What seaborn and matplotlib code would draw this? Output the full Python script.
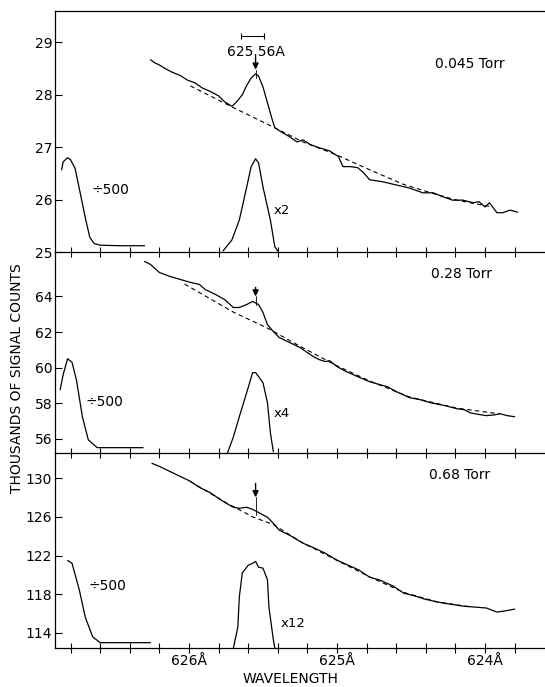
import matplotlib
matplotlib.use('Agg')
from matplotlib import pyplot as plt
import pandas as pd
import seaborn as sns

# wavelength (A) / thousands of counts
top_wl = [626.26, 626.23, 626.20, 626.16, 626.12, 626.06, 626.01, 625.96, 625.91, 625.86,
          625.80, 625.76, 625.71, 625.68, 625.64, 625.61, 625.58, 625.55, 625.53, 625.50,
          625.47, 625.44, 625.42, 625.37, 625.32, 625.27, 625.23, 625.18, 625.12, 625.05,
          624.99, 624.96, 624.91, 624.86, 624.82, 624.78, 624.69, 624.60, 624.51, 624.42,
          624.35, 624.28, 624.22, 624.15, 624.08, 624.04, 624.00, 623.97, 623.92, 623.88,
          623.83, 623.78]
top_val = [28.67, 28.61, 28.57, 28.50, 28.44, 28.37, 28.28, 28.23, 28.13, 28.07,
           27.98, 27.87, 27.78, 27.86, 28.00, 28.18, 28.32, 28.40, 28.36, 28.15,
           27.85, 27.55, 27.37, 27.28, 27.20, 27.10, 27.14, 27.05, 26.99, 26.93,
           26.82, 26.63, 26.63, 26.61, 26.51, 26.38, 26.34, 26.28, 26.22, 26.13,
           26.13, 26.05, 25.99, 25.99, 25.94, 25.96, 25.86, 25.94, 25.75, 25.75,
           25.80, 25.76]
top_base_wl = [625.99, 625.71, 625.42, 625.23, 625.00, 624.78, 624.55, 624.32, 624.19, 623.97]
top_base_val = [28.17, 27.77, 27.37, 27.10, 26.85, 26.57, 26.29, 26.09, 25.99, 25.87]
top_div_wl = [626.86, 626.85, 626.82, 626.80, 626.77, 626.74, 626.70, 626.67, 626.64, 626.60, 626.47, 626.30]
top_div_val = [26.57, 26.72, 26.80, 26.76, 26.60, 26.20, 25.65, 25.28, 25.16, 25.13, 25.12, 25.12]
top_mul_wl = [625.77, 625.71, 625.66, 625.61, 625.58, 625.55, 625.53, 625.50, 625.45, 625.42, 625.40]
top_mul_val = [25.02, 25.23, 25.61, 26.24, 26.63, 26.78, 26.70, 26.24, 25.61, 25.10, 25.02]

mid_wl = [626.30, 626.26, 626.20, 626.13, 626.06, 625.99, 625.93, 625.89, 625.82, 625.76,
          625.70, 625.66, 625.61, 625.57, 625.53, 625.50, 625.47, 625.43, 625.39, 625.32,
          625.25, 625.16, 625.12, 625.08, 625.05, 625.00, 624.95, 624.86, 624.78, 624.71,
          624.66, 624.60, 624.51, 624.44, 624.37, 624.27, 624.19, 624.14, 624.10, 624.03,
          623.99, 623.93, 623.90, 623.85, 623.80]
mid_val = [65.97, 65.80, 65.35, 65.13, 64.96, 64.79, 64.68, 64.39, 64.11, 63.83,
           63.38, 63.38, 63.55, 63.72, 63.55, 63.10, 62.42, 62.03, 61.69, 61.41,
           61.13, 60.62, 60.45, 60.34, 60.39, 60.06, 59.83, 59.49, 59.21, 59.04,
           58.93, 58.65, 58.31, 58.20, 58.03, 57.86, 57.69, 57.63, 57.46, 57.35,
           57.30, 57.35, 57.41, 57.30, 57.24]
mid_base_wl = [626.03, 625.70, 625.47, 625.25, 625.00, 624.78, 624.51, 624.19, 623.90]
mid_base_val = [64.70, 63.12, 62.22, 61.20, 60.10, 59.25, 58.35, 57.72, 57.40]
mid_div_wl = [626.87, 626.85, 626.82, 626.79, 626.76, 626.72, 626.68, 626.62, 626.31]
mid_div_val = [58.76, 59.60, 60.50, 60.30, 59.30, 57.24, 55.94, 55.50, 55.50]
mid_mul_wl = [625.74, 625.70, 625.66, 625.61, 625.57, 625.55, 625.53, 625.50, 625.47, 625.45, 625.43]
mid_mul_val = [55.20, 56.10, 57.24, 58.60, 59.72, 59.72, 59.50, 59.15, 58.03, 56.34, 55.27]

bot_wl = [626.25, 626.20, 626.13, 626.06, 625.99, 625.93, 625.86, 625.81, 625.76, 625.70,
          625.66, 625.61, 625.57, 625.52, 625.47, 625.43, 625.39, 625.32, 625.23, 625.15,
          625.08, 625.00, 624.91, 624.85, 624.78, 624.71, 624.62, 624.55, 624.47, 624.41,
          624.32, 624.24, 624.15, 624.07, 623.99, 623.92, 623.87, 623.80]
bot_val = [131.53, 131.22, 130.70, 130.19, 129.67, 129.05, 128.54, 128.02, 127.51, 126.99,
           126.89, 126.99, 126.78, 126.37, 125.96, 125.34, 124.62, 124.10, 123.28, 122.76,
           122.25, 121.53, 120.91, 120.49, 119.77, 119.46, 118.85, 118.12, 117.81, 117.51,
           117.20, 116.99, 116.78, 116.68, 116.58, 116.16, 116.27, 116.47]
bot_base_wl = [625.99, 625.76, 625.57, 625.43, 625.23, 625.00, 624.78, 624.55, 624.32, 624.10]
bot_base_val = [129.65, 127.55, 126.00, 125.20, 123.30, 121.50, 119.80, 118.20, 117.20, 116.70]
bot_div_wl = [626.82, 626.79, 626.74, 626.70, 626.65, 626.60, 626.26]
bot_div_val = [121.50, 121.20, 118.40, 115.60, 113.60, 113.00, 113.00]
bot_mul_wl = [625.70, 625.67, 625.66, 625.64, 625.60, 625.57, 625.55, 625.53, 625.50, 625.47, 625.46, 625.43, 625.42]
bot_mul_val = [112.45, 114.60, 117.70, 120.20, 121.00, 121.20, 121.40, 120.80, 120.70, 119.50, 116.70, 113.30, 112.45]

pressures = ['0.045 Torr', '0.28 Torr', '0.68 Torr']
factors = ['x2', 'x4', 'x12']
ylims = [(25, 29.6), (55.2, 66.5), (112.45, 132.6)]
yticks = [[25, 26, 27, 28, 29], [56, 58, 60, 62, 64], [114, 118, 122, 126, 130]]
line_x = 625.55

sns.set_style('ticks')
plt.rcParams['font.family'] = ['DejaVu Sans']
for k in ['text.color', 'axes.labelcolor', 'xtick.color', 'ytick.color', 'axes.edgecolor']:
    plt.rcParams[k] = 'black'

fig = plt.figure(figsize=(5.45, 6.87), dpi=100)
W, H = 545, 687
rects = [(11, 252), (252, 453), (453, 648)]
axes = []
for top, bottom in rects:
    ax = fig.add_axes([55 / W, 1 - bottom / H, 490 / W, (bottom - top) / H])
    axes.append(ax)

panels = [
    (top_wl, top_val, top_base_wl, top_base_val, top_div_wl, top_div_val, top_mul_wl, top_mul_val),
    (mid_wl, mid_val, mid_base_wl, mid_base_val, mid_div_wl, mid_div_val, mid_mul_wl, mid_mul_val),
    (bot_wl, bot_val, bot_base_wl, bot_base_val, bot_div_wl, bot_div_val, bot_mul_wl, bot_mul_val),
]

for i, (ax, p) in enumerate(zip(axes, panels)):
    wl, val, bwl, bval, dwl, dval, mwl, mval = p
    df = pd.DataFrame({'wl': wl, 'val': val})
    sns.lineplot(data=df, x='wl', y='val', ax=ax, sort=False, estimator=None, color='black', lw=0.9)
    sns.lineplot(x=bwl, y=bval, ax=ax, sort=False, estimator=None, color='black', lw=0.8, linestyle=(0, (4, 3)))
    sns.lineplot(x=dwl, y=dval, ax=ax, sort=False, estimator=None, color='black', lw=0.9)
    sns.lineplot(x=mwl, y=mval, ax=ax, sort=False, estimator=None, color='black', lw=0.9)
    ax.set_xlim(626.905, 623.595)
    ax.set_ylim(*ylims[i])
    ax.set_yticks(yticks[i])
    ax.set_xticks([626.8 - 0.2 * k for k in range(16)])
    ax.set_xlabel('')
    ax.set_ylabel('')
    ax.tick_params(axis='x', direction='inout', length=7, width=0.8)
    ax.tick_params(axis='y', direction='in', length=5, width=0.8, labelsize=10, pad=2)
    ax.spines['right'].set_visible(False)
    if i > 0:
        ax.spines['top'].set_visible(False)
    for s in ax.spines.values():
        s.set_linewidth(0.9)
    if i < 2:
        ax.set_xticklabels([])
    ax.patch.set_alpha(0)

# bottom labels only at whole angstroms
labels = []
for t in axes[2].get_xticks():
    if abs(t - round(t)) < 1e-6:
        labels.append('%dÅ' % round(t))
    else:
        labels.append('')
axes[2].set_xticklabels(labels, fontsize=10)
axes[2].tick_params(axis='x', pad=1)

# text annotations
div_pos = [(626.53, 26.19), (626.57, 58.08), (626.55, 118.85)]
mul_pos = [(625.37, 25.80), (625.37, 57.41), (625.30, 115.03)]
torr_pos = [(624.10, 28.58), (624.16, 65.24), (624.17, 130.31)]
for i, ax in enumerate(axes):
    ax.text(*div_pos[i], '÷500', fontsize=10, ha='center', va='center')
    ax.text(*mul_pos[i], factors[i], fontsize=9.5, ha='center', va='center')
    ax.text(*torr_pos[i], pressures[i], fontsize=10, ha='center', va='center')

# arrows over the line
arrows = [(28.73, 28.48, 28.33), (64.51, 64.0, 63.5), (129.46, 128.02, 126.2)]
for i, ax in enumerate(axes):
    y0, y1, y2 = arrows[i]
    ax.annotate('', xy=(line_x, y1), xytext=(line_x, y0),
                arrowprops=dict(arrowstyle='-|>', color='black', lw=1.0, mutation_scale=9,
                                shrinkA=0, shrinkB=0))
    ax.plot([line_x, line_x], [y1, y2], color='black', lw=0.6)

axes[0].text(625.545, 28.82, '625.56A', fontsize=10, ha='center', va='center')
axes[0].errorbar(625.57, 29.13, xerr=0.08, color='black', lw=0.8, capsize=2.5, capthick=0.8)

fig.text(17 / W, 1 - 378 / H, 'THOUSANDS OF SIGNAL COUNTS', rotation=90,
         ha='center', va='center', fontsize=10)
fig.text(290 / W, 1 - 679 / H, 'WAVELENGTH', ha='center', va='center', fontsize=10)

fig.savefig('out.png', dpi=100)
